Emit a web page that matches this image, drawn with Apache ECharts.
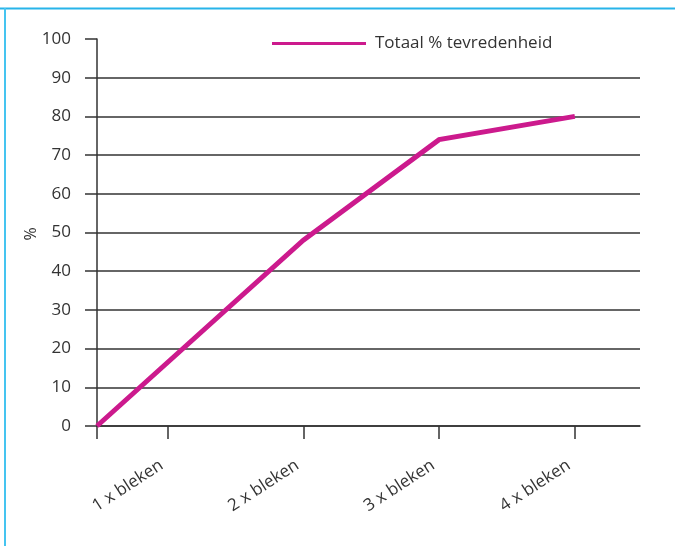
<!DOCTYPE html>
<html>
<head>
<meta charset="utf-8">
<script src="https://cdn.jsdelivr.net/npm/echarts@6/dist/echarts.min.js"></script>
<style>
  html, body { margin: 0; padding: 0; background: #ffffff; }
  #chart { width: 675px; height: 546px; }
</style>
</head>
<body>
<div id="chart"></div>
<script>
// Number of bleaching sessions on the x axis
const categories = ['1 x bleken', '2 x bleken', '3 x bleken', '4 x bleken'];
// Share of satisfied patients (%); the line starts at 0 at the origin
const startValue = 0;
const satisfaction = ['-', 48, 74, 80];
const seriesName = 'Totaal % tevredenheid';
const yTicks = [0, 10, 20, 30, 40, 50, 60, 70, 80, 90, 100];
const yTitle = '%';

// Each category sits a little past the middle of its band on the x scale
const OFFSET = 0.52;
const catPos = categories.map((c, i) => i + OFFSET);

const lineData = [[0, startValue]].concat(
  satisfaction.map((v, i) => [catPos[i], v])
);

const ink = '#333333';
const magenta = '#cc1a8d';
const fontNum = '"Open Sans", sans-serif';

const chart = echarts.init(document.getElementById('chart'), null, { renderer: 'canvas' });

chart.setOption({
  animation: false,
  backgroundColor: '#ffffff',
  grid: { left: 97, right: 35, top: 39, bottom: 120, containLabel: false },
  legend: {
    data: [seriesName],
    left: 267,
    top: 30,
    icon: 'rect',
    itemWidth: 94,
    itemHeight: 3,
    textStyle: { color: ink, fontSize: 17, fontFamily: fontNum, padding: [0, 0, 0, 4] }
  },
  xAxis: {
    type: 'value',
    min: 0,
    max: categories.length,
    splitLine: { show: false },
    axisLine: { show: true, lineStyle: { color: ink, width: 1.5 } },
    axisTick: {
      show: true,
      customValues: [0].concat(catPos),
      length: 13,
      inside: false,
      lineStyle: { color: ink, width: 1.5 }
    },
    axisLabel: {
      show: true,
      customValues: catPos,
      rotate: 33,
      margin: 34,
      padding: [0, 7, 0, 0],
      color: ink,
      fontSize: 17,
      fontFamily: fontNum,
      formatter: (v) => categories[Math.round(v - OFFSET)] || ''
    }
  },
  yAxis: {
    type: 'value',
    min: yTicks[0],
    max: yTicks[yTicks.length - 1],
    interval: 10,
    axisLine: { show: true, lineStyle: { color: ink, width: 1.5 } },
    axisTick: { show: true, length: 12, lineStyle: { color: ink, width: 1.5 } },
    axisLabel: { color: ink, fontSize: 17, fontFamily: fontNum, margin: 26 },
    splitLine: { show: true, showMaxLine: false, lineStyle: { color: ink, width: 1.5 } }
  },
  series: [{
    name: seriesName,
    type: 'line',
    data: lineData,
    connectNulls: true,
    showSymbol: false,
    symbol: 'none',
    lineStyle: { color: magenta, width: 5, join: 'miter' },
    itemStyle: { color: magenta }
  }],
  graphic: [
    // frame lines along the top and left edge
    { type: 'line', shape: { x1: 0, y1: 8.5, x2: 675, y2: 8.5 }, style: { stroke: '#27b4e9', lineWidth: 2 } },
    { type: 'line', shape: { x1: 5, y1: 8, x2: 5, y2: 546 }, style: { stroke: '#45c4f0', lineWidth: 2 } },
    // vertical y-axis title
    {
      type: 'text',
      x: 31,
      y: 234,
      rotation: Math.PI / 2,
      style: {
        text: yTitle,
        fill: ink,
        font: '16px "Open Sans", sans-serif',
        align: 'center',
        verticalAlign: 'middle'
      }
    }
  ]
});
</script>
</body>
</html>
